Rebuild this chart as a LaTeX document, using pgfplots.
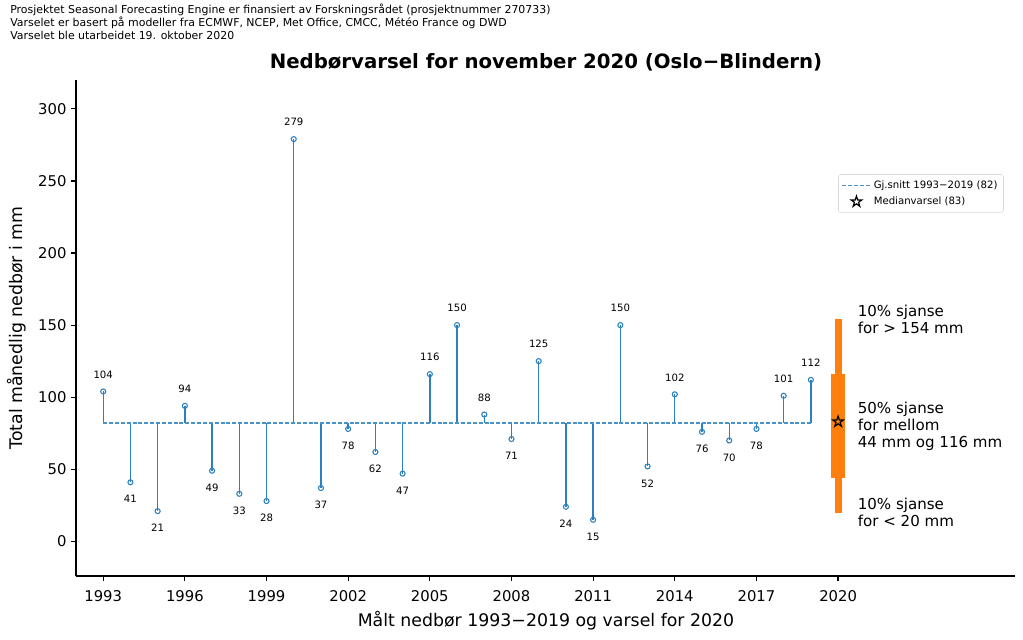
\documentclass[border=0pt]{standalone}
\usepackage{fontspec}
\setmainfont{DejaVu Sans}
\usepackage{pgfplots}
\pgfplotsset{compat=1.18}
\usepackage{pgfplotstable}
\definecolor{tabblue}{HTML}{1F77B4}
\definecolor{stemblue}{HTML}{2A80C0}
\definecolor{taborange}{HTML}{FF7F0E}
\pgfdeclareplotmark{ostar}{%
  \pgfpathmoveto{\pgfpointpolar{90}{\pgfplotmarksize}}%
  \pgfpathlineto{\pgfpointpolar{126}{0.382\pgfplotmarksize}}%
  \pgfpathlineto{\pgfpointpolar{162}{\pgfplotmarksize}}%
  \pgfpathlineto{\pgfpointpolar{198}{0.382\pgfplotmarksize}}%
  \pgfpathlineto{\pgfpointpolar{234}{\pgfplotmarksize}}%
  \pgfpathlineto{\pgfpointpolar{270}{0.382\pgfplotmarksize}}%
  \pgfpathlineto{\pgfpointpolar{306}{\pgfplotmarksize}}%
  \pgfpathlineto{\pgfpointpolar{342}{0.382\pgfplotmarksize}}%
  \pgfpathlineto{\pgfpointpolar{18}{\pgfplotmarksize}}%
  \pgfpathlineto{\pgfpointpolar{54}{0.382\pgfplotmarksize}}%
  \pgfpathclose
  \pgfusepathqstroke}
\pgfplotsset{
  meanleg/.style={legend image code/.code={\draw[##1] (0pt,0pt) -- (21pt,0pt);}},
  starleg/.style={legend image code/.code={\draw[##1] plot coordinates {(10.5pt,0pt)};}},
}

\pgfplotstableread{
x y
1993 82
1993 104
1993 nan
1994 82
1994 41
1994 nan
1995 82
1995 21
1995 nan
1996 82
1996 94
1996 nan
1997 82
1997 49
1997 nan
1998 82
1998 33
1998 nan
1999 82
1999 28
1999 nan
2000 82
2000 279
2000 nan
2001 82
2001 37
2001 nan
2002 82
2002 78
2002 nan
2003 82
2003 62
2003 nan
2004 82
2004 47
2004 nan
2005 82
2005 116
2005 nan
2006 82
2006 150
2006 nan
2007 82
2007 88
2007 nan
2008 82
2008 71
2008 nan
2009 82
2009 125
2009 nan
2010 82
2010 24
2010 nan
2011 82
2011 15
2011 nan
2012 82
2012 150
2012 nan
2013 82
2013 52
2013 nan
2014 82
2014 102
2014 nan
2015 82
2015 76
2015 nan
2016 82
2016 70
2016 nan
2017 82
2017 78
2017 nan
2018 82
2018 101
2018 nan
2019 82
2019 112
2019 nan
}\stems

\pgfplotstableread{
x y
1993 104
1996 94
2000 279
2005 116
2006 150
2007 88
2009 125
2012 150
2014 102
2018 101
2019 112
}\above

\pgfplotstableread{
x y
1994 41
1995 21
1997 49
1998 33
1999 28
2001 37
2002 78
2003 62
2004 47
2008 71
2010 24
2011 15
2013 52
2015 76
2016 70
2017 78
}\below

\begin{document}
\begin{tikzpicture}
\useasboundingbox (-57pt,-47.25pt) rectangle (710.25pt,432pt);
\begin{axis}[
  at={(0pt,0pt)}, anchor=south west,
  scale only axis, width=704.25pt, height=372pt,
  xmin=1992, xmax=2026.5, ymin=-24, ymax=320,
  clip=false,
  axis x line*=bottom, axis y line*=left,
  axis line style={line width=1pt, -},
  xtick={1993,1996,1999,2002,2005,2008,2011,2014,2017,2020},
  ytick={0,50,100,150,200,250,300},
  tick align=outside,
  major tick length=3.6pt,
  tick style={black, line width=0.9pt},
  /pgf/number format/assume math mode=true,
  xticklabel style={/pgf/number format/1000 sep={}, yshift=-3.5pt},
  tick label style={font=\fontsize{11.1}{13}\selectfont},
  unbounded coords=jump,
  legend style={at={(0.988,0.81)}, anchor=north east, font=\fontsize{7.6}{9.5}\selectfont,
    draw=black!15, rounded corners=2pt, inner sep=2.5pt, row sep=1pt},
  legend cell align=left,
]
\addplot[stemblue, line width=1.05pt, forget plot] table[x=x,y=y] {\stems};
\addplot[stemblue!85, line width=1pt, dash pattern=on 3pt off 1.4pt, meanleg] coordinates {(1993,82) (2019,82)};
\addlegendentry{Gj.snitt 1993−2019 (82)}
\addplot[only marks, mark=o, mark size=1.9pt, mark options={draw=stemblue, fill=white, line width=0.8pt}, forget plot,
  nodes near coords, nodes near coords style={font=\fontsize{7.6}{9}\selectfont, anchor=center, yshift=12.75pt, text=black}] table[x=x,y=y] {\above};
\addplot[only marks, mark=o, mark size=1.9pt, mark options={draw=stemblue, fill=white, line width=0.8pt}, forget plot,
  nodes near coords, nodes near coords style={font=\fontsize{7.6}{9}\selectfont, anchor=center, yshift=-12.75pt, text=black}] table[x=x,y=y] {\below};
\addplot[taborange, line width=5.25pt, forget plot] coordinates {(2020,20) (2020,154)};
\addplot[taborange, line width=10.5pt, forget plot] coordinates {(2020,44) (2020,116)};
\addplot[only marks, mark=ostar, mark size=4.2pt, mark options={draw=black, line width=0.9pt}, starleg] coordinates {(2020,83)};
\addlegendentry{Medianvarsel (83)}
\node[anchor=west, align=left, font=\fontsize{11.3}{12.9}\selectfont] at (axis cs:2020.55,154) {10\% sjanse\\for > 154 mm};
\node[anchor=west, align=left, font=\fontsize{11.3}{12.9}\selectfont] at (axis cs:2020.55,80) {50\% sjanse\\for mellom\\44 mm og 116 mm};
\node[anchor=west, align=left, font=\fontsize{11.3}{12.9}\selectfont] at (axis cs:2020.55,20) {10\% sjanse\\for < 20 mm};
\end{axis}
\node[anchor=center, font=\fontsize{13}{15}\selectfont] at (352.5pt,-33.75pt) {Målt nedbør 1993−2019 og varsel for 2020};
\node[anchor=center, rotate=90, font=\fontsize{13}{15}\selectfont] at (-44.25pt,186pt) {Total månedlig nedbør i mm};
\node[anchor=north west, align=left, inner sep=0pt, font=\fontsize{8.2}{9.75}\selectfont] at (-49.5pt,429pt)
  {Prosjektet Seasonal Forecasting Engine er finansiert av Forskningsrådet (prosjektnummer 270733)\\
   Varselet er basert på modeller fra ECMWF, NCEP, Met Office, CMCC, Météo France og DWD\\
   Varselet ble utarbeidet 19. oktober 2020};
\node[anchor=center, font=\fontsize{14.8}{17}\selectfont\bfseries] at (352.5pt,385.5pt)
  {Nedbørvarsel for november 2020 (Oslo−Blindern)};
\end{tikzpicture}
\end{document}
